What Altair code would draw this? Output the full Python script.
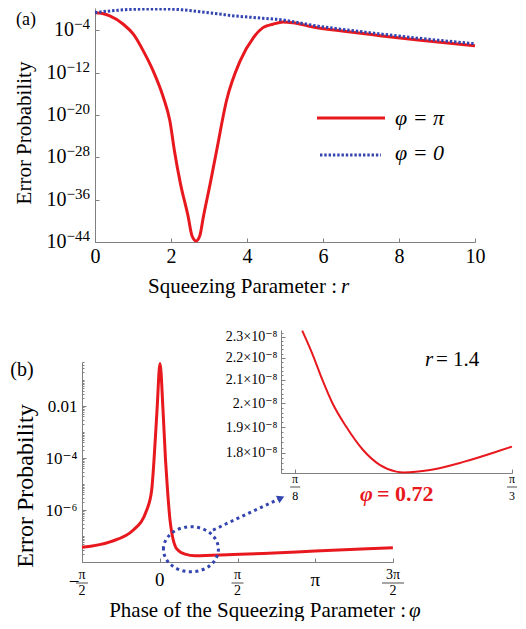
import math
import pandas as pd
import altair as alt

PI = math.pi
FONT = "Liberation Serif, DejaVu Serif"
RED = "#e8191e"
BLUE = "#3444b0"
AXC = "#808080"

# ---------------- panel (a): error probability vs squeezing parameter r
a_r_red = [0, 0.2, 0.39, 0.745, 1.01, 1.27, 1.53, 1.80, 1.97, 2.09, 2.25, 2.455, 2.55, 2.66,
           2.76, 2.85, 3.03, 3.2, 3.46, 3.82, 4.17, 4.42, 4.68, 4.95, 5.2, 5.74, 6.5, 7.5, 8.5, 10]
a_p_red = [2.07e-1, 1.41e-1, 4.95e-2, 1.35e-3, 1.78e-5, 1.26e-8, 2.14e-12, 2.0e-17, 8.1e-22,
           1.78e-27, 9.5e-34, 4.8e-40, 1.7e-43, 1.58e-44, 1.7e-43, 4.8e-40, 9.5e-34, 1.78e-27,
           4.8e-18, 1.62e-10, 4.1e-6, 3.1e-4, 1.35e-3, 3.6e-3, 2.7e-3, 4.0e-4, 7.1e-5, 9.5e-6,
           1.41e-6, 1.12e-7]
a_r_blue = [0, 0.3, 0.6, 0.9, 1.26, 1.6, 1.92, 2.3, 2.82, 3.25, 3.68, 4.1, 4.42, 4.93, 5.3,
            5.74, 6.5, 7.5, 8.5, 10]
a_p_blue = [2.09e-1, 3.8e-1, 5.9e-1, 8.5e-1, 1.0, 1.05, 1.0, 7.1e-1, 2.8e-1, 1.2e-1, 5.0e-2,
            2.8e-2, 1.8e-2, 8.9e-3, 3.2e-3, 8.3e-4, 1.5e-4, 2.0e-5, 3.2e-6, 2.8e-7]
a_xticks = [0, 2, 4, 6, 8, 10]
a_yticks = [1e-44, 1e-36, 1e-28, 1e-20, 1e-12, 1e-4]
a_yexp = ["−44", "−36", "−28", "−20", "−12", "−4"]
legend_labels = ["φ = π", "φ = 0"]

# ---------------- panel (b): error probability vs phase phi (r = 1.4)
b_phi = [-1.5708, -1.005, -0.534, -0.263, -0.163, -0.116, -0.055, 0.005, 0.066, 0.117, 0.157,
         0.207, 0.343, 0.51, 0.72, 1.48, 2.086, 3.14, 4.71]
b_p = [3.7e-8, 6.0e-8, 1.7e-7, 1.0e-6, 5.9e-6, 8.3e-5, 7.1e-3, 4.4e-1, 7.1e-3, 8.3e-5, 5.9e-6,
       4.2e-7, 3.2e-8, 2.0e-8, 1.73e-8, 1.95e-8, 2.14e-8, 2.63e-8, 3.55e-8]
b_xticks = [-PI / 2, 0, PI / 2, PI, 3 * PI / 2]
b_xnum = ["π", "0", "π", "π", "3π"]
b_xden = ["2", "", "2", "", "2"]
b_xsign = ["−", "", "", "", ""]
b_yticks = [1e-6, 1e-4, 1e-2]
b_yexp = [-6, -4, -2]
b_ylabels = ["10⁻⁶", "10⁻⁴", "0.01"]
b_minor = [n * 10.0 ** k for k in range(-8, 0) for n in range(1, 10)
           if n * 10.0 ** k <= 0.5 and not (n == 1 and k in (-2, -4, -6))]
ellipse_phi = [0.63]
ellipse_p = [3.1e-8]
arrow_phi = [1.076, 2.449]
arrow_p = [1.7e-7, 2.9e-6]

# ---------------- inset
i_phi = [0.414, 0.444, 0.475, 0.505, 0.546, 0.597, 0.648, 0.698, 0.72, 0.800, 0.901, 1.002, 1.047]
i_p = [2.331e-8, 2.222e-8, 2.100e-8, 2.000e-8, 1.904e-8, 1.812e-8, 1.755e-8, 1.730e-8,
       1.727e-8, 1.736e-8, 1.766e-8, 1.805e-8, 1.824e-8]
i_xticks = [PI / 8, PI / 3]
i_xnum = ["π", "π"]
i_xden = ["8", "3"]
i_yticks = [1.8e-8, 1.9e-8, 2.0e-8, 2.1e-8, 2.2e-8, 2.3e-8]
i_ykeys = [18, 19, 20, 21, 22, 23]
i_ylabels = ["1.8×10⁻⁸", "1.9×10⁻⁸", "2.×10⁻⁸", "2.1×10⁻⁸", "2.2×10⁻⁸", "2.3×10⁻⁸"]
i_minor = [round(1.74e-8 + j * 0.02e-8, 12) for j in range(30)
           if round(1.74e-8 + j * 0.02e-8, 12) <= 2.33e-8]

W, H = 510, 613

SC = {
    "ax": dict(domain=[0, 10], range=[87, 467], nice=False, zero=False),
    "ay": dict(type="log", domain=[1e-44, 10 ** 0.2], range=[234, 0], nice=False),
    "bx": dict(domain=[-PI / 2, 3 * PI / 2], range=[74, 385], nice=False, zero=False),
    "by": dict(type="log", domain=[1e-8, 10 ** -0.3], range=[554, 354], nice=False),
    "ix": dict(domain=[0.35, PI / 3], range=[273, 504], nice=False, zero=False),
    "iy": dict(type="log", domain=[1.725e-8, 2.334e-8], range=[465, 322], nice=False),
}


def S(k):
    return alt.Scale(**SC[k])


def AX(**kw):
    base = dict(grid=False, title=None, domainColor=AXC, tickColor=AXC, labelFont=FONT,
                labelColor="black", labelFlush=False, labelOverlap=False)
    base.update(kw)
    return alt.Axis(**base)


def label_axis(orient, offset, values, size, padding, expr=None):
    kw = dict(orient=orient, offset=offset, values=values, labelFontSize=size,
              labelPadding=padding, ticks=False, domain=False)
    if expr is not None:
        kw["labelExpr"] = expr
    return AX(**kw)


def tick_axis(orient, offset, values, size, domain=True):
    return AX(orient=orient, offset=offset, values=values, labels=False, tickSize=size,
              domain=domain, tickWidth=1, domainWidth=1)


def lookup_expr(labels, keys, key_expr):
    return "%s[indexof(%s, %s)]" % (str(labels), str(keys), key_expr)


def text(t, x, y, size, **kw):
    return alt.Chart(pd.DataFrame({"t": [t]})).mark_text(font=FONT, fontSize=size, **kw).encode(
        text="t:N", x=alt.value(x), y=alt.value(y))


def hline(x1, x2, y, color, width, dash=None):
    kw = dict(color=color, strokeWidth=width)
    if dash is not None:
        kw["strokeDash"] = dash
    return alt.Chart(pd.DataFrame({"k": [0]})).mark_rule(**kw).encode(
        x=alt.value(x1), x2=alt.value(x2), y=alt.value(y))


dfA_red = pd.DataFrame({"r": a_r_red, "p": a_p_red})
dfA_blue = pd.DataFrame({"r": a_r_blue, "p": a_p_blue})
dfB = pd.DataFrame({"phi": b_phi, "p": b_p})
dfI = pd.DataFrame({"phi": i_phi, "p": i_p})

layers = []

# ---- panel (a)
layers.append(alt.Chart(dfA_red).mark_line(color=RED, strokeWidth=3, interpolate="monotone").encode(
    x=alt.X("r:Q", scale=S("ax"), axis=label_axis("bottom", 234 - H, a_xticks, 20, 4)),
    y=alt.Y("p:Q", scale=S("ay"), axis=None)))
layers.append(alt.Chart(dfA_blue).mark_line(color=BLUE, strokeWidth=3, strokeDash=[2.4, 1.9],
                                            interpolate="monotone").encode(
    x=alt.X("r:Q", scale=S("ax"), axis=tick_axis("top", -234, a_xticks, 4)),
    y=alt.Y("p:Q", scale=S("ay"), axis=tick_axis("right", 87 - W, a_yticks, 4))))

# (a) y tick labels: "10" + raised exponent
dfAy = pd.DataFrame({"v": a_yticks, "e": a_yexp})
ayv = alt.Y("v:Q", scale=S("ay"), axis=None)
layers.append(alt.Chart(dfAy).mark_text(font=FONT, fontSize=15, align="right", baseline="middle", dy=-6).encode(
    x=alt.value(82), y=ayv, text="e:N"))
for n in (2, 3):
    layers.append(alt.Chart(dfAy).transform_filter("length(datum.e) == %d" % n).mark_text(
        font=FONT, fontSize=20, align="right", baseline="middle", text="10", dx=-(1 + 7.5 * n)).encode(
        x=alt.value(82), y=ayv))

# legend (a)
layers.append(hline(309, 377, 110, RED, 3))
layers.append(hline(312, 373, 147, BLUE, 3, [2.4, 1.9]))
layers.append(text(legend_labels[0], 387, 110, 22, align="left", baseline="middle", fontStyle="italic"))
layers.append(text(legend_labels[1], 387, 145, 22, align="left", baseline="middle", fontStyle="italic"))

# titles (a)
layers.append(text("(a)", 18, 3, 18, align="center", baseline="top"))
layers.append(text("Error Probability", 17, 125, 21, align="center", baseline="middle", angle=270))
layers.append(text("Squeezing Parameter :", 329, 279, 21, align="right", baseline="middle"))
layers.append(text("r", 333, 279, 21, align="left", baseline="middle", fontStyle="italic"))

# ---- panel (b) main
b_lab_expr = lookup_expr(b_ylabels, b_yexp, "round(log(datum.value)/LN10)")
layers.append(alt.Chart(dfB).mark_line(color=RED, strokeWidth=3, interpolate="monotone").encode(
    x=alt.X("phi:Q", scale=S("bx"), axis=tick_axis("top", -554, b_xticks, 4)),
    y=alt.Y("p:Q", scale=S("by"), axis=label_axis("left", -74, b_yticks, 17, 5, b_lab_expr))))
layers.append(alt.Chart(dfB).mark_line(opacity=0).encode(
    x=alt.X("phi:Q", scale=S("bx"), axis=None),
    y=alt.Y("p:Q", scale=S("by"), axis=tick_axis("right", 74 - W, b_yticks, 4))))
layers.append(alt.Chart(dfB).mark_line(opacity=0).encode(
    x=alt.X("phi:Q", scale=S("bx"), axis=None),
    y=alt.Y("p:Q", scale=S("by"), axis=tick_axis("right", 74 - W, b_minor, 2, domain=False))))

# (b) x tick labels (fractions)
dfBt = pd.DataFrame({"v": b_xticks, "num": b_xnum, "den": b_xden, "sign": b_xsign})
bt = alt.Chart(dfBt).transform_calculate(
    sh="datum.sign != '' ? 7 : 0", bw="2 + 10*length(datum.num)")
bxv = alt.X("v:Q", scale=S("bx"), axis=None)
layers.append(bt.transform_filter("datum.den == ''").mark_text(font=FONT, fontSize=19, baseline="middle").encode(
    x=bxv, y=alt.value(572), text="num:N"))
layers.append(bt.transform_filter("datum.den != ''").mark_text(font=FONT, fontSize=14, baseline="middle").encode(
    x=bxv, xOffset=alt.XOffset("sh:Q", scale=None), y=alt.value(567), text="num:N"))
layers.append(bt.transform_filter("datum.den != ''").mark_text(font=FONT, fontSize=14, baseline="middle").encode(
    x=bxv, xOffset=alt.XOffset("sh:Q", scale=None), y=alt.value(583), text="den:N"))
layers.append(bt.transform_filter("datum.den != ''").mark_tick(orient="horizontal", thickness=1, color="black").encode(
    x=bxv, xOffset=alt.XOffset("sh:Q", scale=None), y=alt.value(575), size=alt.Size("bw:Q", scale=None)))
layers.append(bt.transform_filter("datum.sign != ''").mark_text(font=FONT, fontSize=19, baseline="middle").encode(
    x=bxv, xOffset=alt.value(-8), y=alt.value(574), text="sign:N"))

# ellipse + arrow
ell_path = "M -1 0 A 1 0.82 0 1 1 1 0 A 1 0.82 0 1 1 -1 0 Z"
layers.append(alt.Chart(pd.DataFrame({"phi": ellipse_phi, "p": ellipse_p})).mark_point(
    shape=ell_path, size=3025, filled=False, stroke=BLUE, strokeWidth=3, strokeDash=[3, 3.5], opacity=1).encode(
    x=alt.X("phi:Q", scale=S("bx"), axis=None), y=alt.Y("p:Q", scale=S("by"), axis=None)))
dfArrow = pd.DataFrame({"phi": arrow_phi, "p": arrow_p})
layers.append(alt.Chart(dfArrow).mark_line(color=BLUE, strokeWidth=3, strokeDash=[3, 3.5]).encode(
    x=alt.X("phi:Q", scale=S("bx"), axis=None), y=alt.Y("p:Q", scale=S("by"), axis=None)))
layers.append(alt.Chart(dfArrow.tail(1)).mark_point(
    shape="triangle-right", size=70, filled=True, color=BLUE, angle=335, opacity=1).encode(
    x=alt.X("phi:Q", scale=S("bx"), axis=None), y=alt.Y("p:Q", scale=S("by"), axis=None)))

# titles (b)
layers.append(text("(b)", 14, 362, 20, align="center", baseline="middle"))
layers.append(text("Error Probability", 18, 478, 24, align="center", baseline="middle", angle=270))
layers.append(text("Phase of  the Squeezing Parameter :", 398, 603, 21, align="right", baseline="middle"))
layers.append(text("φ", 401, 603, 21, align="left", baseline="middle", fontStyle="italic"))

# ---- inset
i_lab_expr = lookup_expr(i_ylabels, i_ykeys, "round(datum.value*1e9)")
layers.append(alt.Chart(dfI).mark_line(color=RED, strokeWidth=2, interpolate="monotone").encode(
    x=alt.X("phi:Q", scale=S("ix"), axis=tick_axis("top", -465, i_xticks, 4)),
    y=alt.Y("p:Q", scale=S("iy"), axis=label_axis("left", -273, i_yticks, 14, 4, i_lab_expr))))
layers.append(alt.Chart(dfI).mark_line(opacity=0).encode(
    x=alt.X("phi:Q", scale=S("ix"), axis=None),
    y=alt.Y("p:Q", scale=S("iy"), axis=tick_axis("right", 273 - W, i_yticks, 4))))
layers.append(alt.Chart(dfI).mark_line(opacity=0).encode(
    x=alt.X("phi:Q", scale=S("ix"), axis=None),
    y=alt.Y("p:Q", scale=S("iy"), axis=tick_axis("right", 273 - W, i_minor, 2, domain=False))))

dfIt = pd.DataFrame({"v": i_xticks, "num": i_xnum, "den": i_xden})
it = alt.Chart(dfIt).transform_calculate(bw="2 + 8*length(datum.num)")
ixv = alt.X("v:Q", scale=S("ix"), axis=None)
layers.append(it.mark_text(font=FONT, fontSize=12, baseline="middle").encode(x=ixv, y=alt.value(471), text="num:N"))
layers.append(it.mark_text(font=FONT, fontSize=12, baseline="middle").encode(x=ixv, y=alt.value(488), text="den:N"))
layers.append(it.mark_tick(orient="horizontal", thickness=1, color="black").encode(
    x=ixv, y=alt.value(479), size=alt.Size("bw:Q", scale=None)))

layers.append(text("r", 417, 352, 21, align="left", baseline="middle", fontStyle="italic"))
layers.append(text("= 1.4", 428, 352, 21, align="left", baseline="middle"))
layers.append(text("φ", 352, 486, 22, align="left", baseline="middle", fontStyle="italic",
                   fontWeight="bold", color=RED))
layers.append(text("= 0.72", 369, 486, 22, align="left", baseline="middle", fontWeight="bold", color=RED))

chart = alt.layer(*layers).resolve_scale(x="independent", y="independent").resolve_axis(
    x="independent", y="independent").properties(
    width=W, height=H, padding=0, autosize=alt.AutoSizeParams(type="none")).configure_view(stroke=None)

chart.save("out.html", embed_options={"renderer": "svg", "actions": False})
